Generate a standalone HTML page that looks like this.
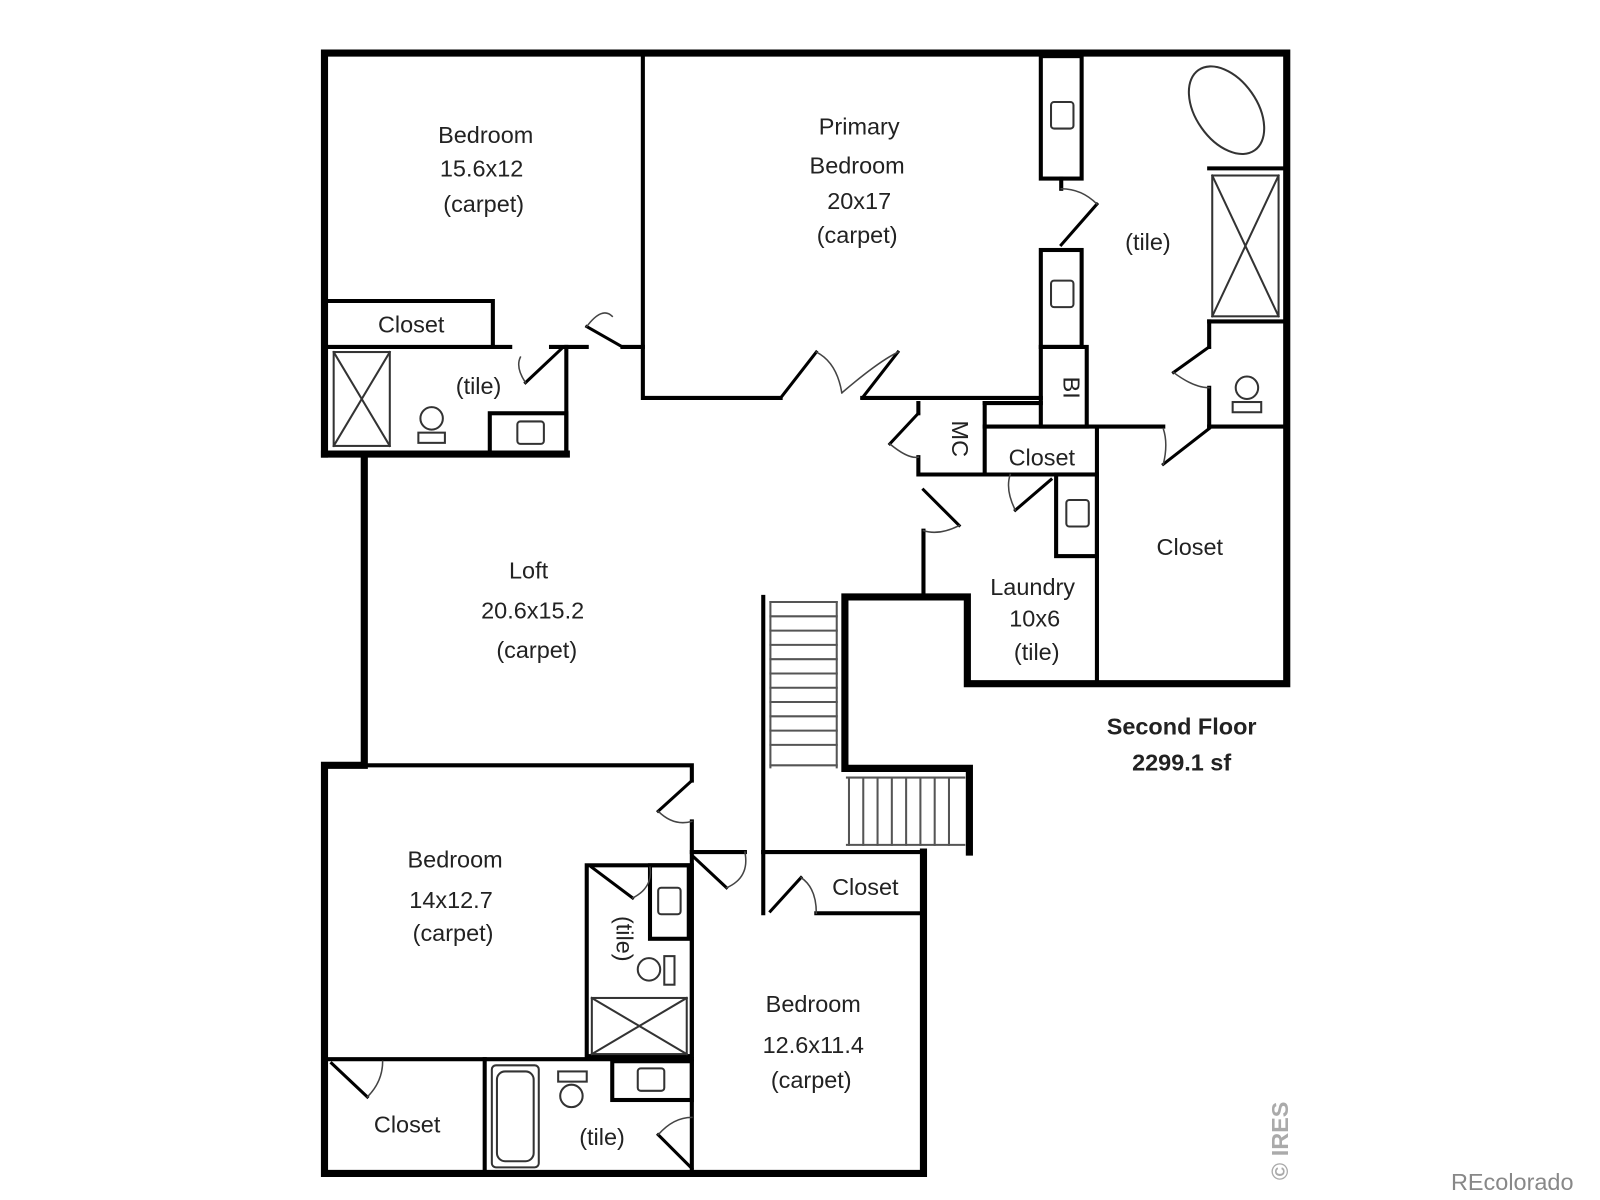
<!DOCTYPE html>
<html><head><meta charset="utf-8"><style>
html,body{margin:0;padding:0;background:#fff;width:1600px;height:1200px;overflow:hidden}
svg{display:block}
text{font-family:"Liberation Sans",sans-serif;fill:#222;font-size:23px;text-anchor:middle}
</style></head><body>
<svg width="1600" height="1200" viewBox="0 0 1568 1176" xmlns="http://www.w3.org/2000/svg">
<g fill="none" stroke="#000" stroke-linecap="square">
<g stroke-width="7">
<polyline points="318,445 318,52 1261,52 1261,670 948,670 948,585 828,585 828,753 950,753 950,835"/>
<polyline points="318,445 555,445"/>
<polyline points="357,445 357,750 318,750 318,1150 905,1150 905,835"/>
</g>
<g stroke-width="4">
<polyline points="630,55 630,390 765,390"/>
<polyline points="845,390 1020,390"/>
<rect x="1020" y="55" width="40" height="120"/>
<rect x="1020" y="245" width="40" height="95"/>
<rect x="1020" y="340" width="45" height="78"/>
<line x1="1040" y1="175" x2="1040" y2="185"/>
<polyline points="1185,165 1258,165"/>
<polyline points="1185,315 1258,315"/>
<line x1="1185" y1="315" x2="1185" y2="340"/>
<line x1="1185" y1="380" x2="1185" y2="418"/>
<polyline points="965,418 1140,418"/>
<line x1="1185" y1="418" x2="1258" y2="418"/>
<line x1="1075" y1="418" x2="1075" y2="668"/>
<polyline points="900,395 900,405"/>
<polyline points="900,448 900,465 1075,465"/>
<line x1="965" y1="395" x2="965" y2="465"/>
<line x1="965" y1="395" x2="1020" y2="395"/>
<rect x="1035" y="465" width="40" height="80"/>
<line x1="905" y1="520" x2="905" y2="582"/>
<polyline points="322,295 483,295 483,340"/>
<polyline points="322,340 500,340"/>
<polyline points="540,340 555,340 555,445"/>
<polyline points="555,340 575,340"/>
<line x1="610" y1="340" x2="630" y2="340"/>
<rect x="480" y="405" width="75" height="40"/>
<line x1="748" y1="585" x2="748" y2="835"/>
<line x1="748" y1="835" x2="905" y2="835"/>
<line x1="748" y1="835" x2="748" y2="895"/>
<polyline points="800,895 905,895"/>
<polyline points="318,750 678,750 678,765"/>
<line x1="678" y1="805" x2="678" y2="1150"/>
<polyline points="678,835 730,835"/>
<rect x="575" y="848" width="103" height="187"/>
<rect x="637" y="848" width="38" height="72"/>
<line x1="318" y1="1038" x2="678" y2="1038"/>
<line x1="475" y1="1038" x2="475" y2="1150"/>
<rect x="600" y="1040" width="78" height="38"/>
</g>
<g stroke="#555" stroke-width="2">
<line x1="755" y1="590" x2="755" y2="752"/><line x1="820" y1="590" x2="820" y2="752"/>
<line x1="755" y1="590" x2="820" y2="590"/><line x1="755" y1="604" x2="820" y2="604"/><line x1="755" y1="618" x2="820" y2="618"/><line x1="755" y1="632" x2="820" y2="632"/><line x1="755" y1="646" x2="820" y2="646"/><line x1="755" y1="660" x2="820" y2="660"/><line x1="755" y1="674" x2="820" y2="674"/><line x1="755" y1="688" x2="820" y2="688"/><line x1="755" y1="702" x2="820" y2="702"/><line x1="755" y1="716" x2="820" y2="716"/><line x1="755" y1="730" x2="820" y2="730"/><line x1="755" y1="750" x2="820" y2="750"/>
<line x1="830" y1="762" x2="945" y2="762"/><line x1="830" y1="828" x2="945" y2="828"/>
<line x1="832" y1="762" x2="832" y2="828"/><line x1="846" y1="762" x2="846" y2="828"/><line x1="860" y1="762" x2="860" y2="828"/><line x1="874" y1="762" x2="874" y2="828"/><line x1="888" y1="762" x2="888" y2="828"/><line x1="902" y1="762" x2="902" y2="828"/><line x1="916" y1="762" x2="916" y2="828"/><line x1="930" y1="762" x2="930" y2="828"/>
</g>
<g stroke="#333" stroke-width="2">
<rect x="327" y="345" width="55" height="92"/><line x1="327" y1="345" x2="382" y2="437"/><line x1="382" y1="345" x2="327" y2="437"/>
<rect x="1188" y="172" width="65" height="138"/><line x1="1188" y1="172" x2="1253" y2="310"/><line x1="1253" y1="172" x2="1188" y2="310"/>
<rect x="580" y="978" width="93" height="55"/><line x1="580" y1="978" x2="673" y2="1033"/><line x1="673" y1="978" x2="580" y2="1033"/>
<ellipse cx="1202" cy="108" rx="30" ry="48" transform="rotate(-35 1202 108)"/>
<rect x="482" y="1044" width="46" height="100" rx="4"/><rect x="487" y="1050" width="36" height="88" rx="8"/>
</g>
<g stroke="#333" stroke-width="2">
<rect x="1030" y="100" width="22" height="26" rx="3"/><rect x="1030" y="275" width="22" height="26" rx="3"/>
<rect x="1045" y="490" width="22" height="26" rx="3"/><rect x="507" y="413" width="26" height="22" rx="3"/>
<rect x="645" y="870" width="22" height="26" rx="3"/><rect x="625" y="1047" width="26" height="22" rx="3"/>
<circle cx="423" cy="410" r="11"/><rect x="410" y="424" width="26" height="10"/>
<circle cx="1222" cy="380" r="11"/><rect x="1208" y="394" width="28" height="10"/>
<circle cx="636" cy="950" r="11"/><rect x="651" y="937" width="10" height="28"/>
<circle cx="560" cy="1074" r="11"/><rect x="547" y="1050" width="28" height="10"/>
</g>
<g stroke="#000" stroke-width="3">
<line x1="575" y1="320" x2="610" y2="340"/><line x1="515" y1="375" x2="550" y2="342"/>
<line x1="765" y1="390" x2="800" y2="345"/><line x1="845" y1="390" x2="880" y2="345"/>
<line x1="1040" y1="240" x2="1075" y2="200"/>
<line x1="1185" y1="340" x2="1150" y2="365"/><line x1="1140" y1="455" x2="1185" y2="420"/>
<line x1="900" y1="405" x2="872" y2="435"/><line x1="905" y1="480" x2="940" y2="515"/>
<line x1="1030" y1="470" x2="995" y2="500"/>
<line x1="678" y1="765" x2="645" y2="795"/><line x1="680" y1="840" x2="712" y2="870"/>
<line x1="755" y1="893" x2="785" y2="860"/><line x1="580" y1="850" x2="620" y2="880"/>
<line x1="325" y1="1042" x2="360" y2="1075"/><line x1="678" y1="1145" x2="645" y2="1112"/>
</g>
<g stroke="#444" stroke-width="1.5">
<path d="M575,320 Q590,300 600,310"/><path d="M515,375 Q505,360 510,350"/>
<path d="M800,345 Q820,355 825,385"/><path d="M880,345 Q860,355 825,385"/>
<path d="M1075,200 Q1060,185 1040,185"/><path d="M1150,365 Q1170,380 1185,380"/>
<path d="M1140,455 Q1145,435 1140,420"/><path d="M872,435 Q890,450 900,448"/>
<path d="M940,515 Q920,525 905,520"/><path d="M995,500 Q985,480 990,465"/>
<path d="M645,795 Q660,810 678,805"/><path d="M712,870 Q735,860 730,835"/>
<path d="M785,860 Q800,870 800,895"/><path d="M620,880 Q640,870 637,850"/>
<path d="M360,1075 Q375,1060 375,1040"/><path d="M645,1112 Q660,1095 678,1095"/>
</g>
</g>
<text x="476" y="140">Bedroom</text><text x="472" y="173">15.6x12</text><text x="474" y="208">(carpet)</text>
<text x="842" y="132">Primary</text><text x="840" y="170">Bedroom</text><text x="842" y="205">20x17</text><text x="840" y="238">(carpet)</text>
<text x="1125" y="245">(tile)</text>
<text x="403" y="326">Closet</text><text x="469" y="386">(tile)</text>
<text x="1042" y="380" transform="rotate(90 1042 380)" font-size="20">BI</text>
<text x="933" y="430" transform="rotate(90 933 430)" font-size="20">MC</text>
<text x="1021" y="456">Closet</text><text x="1166" y="544">Closet</text>
<text x="1012" y="583">Laundry</text><text x="1014" y="614">10x6</text><text x="1016" y="647">(tile)</text>
<text x="518" y="567">Loft</text><text x="522" y="606">20.6x15.2</text><text x="526" y="645">(carpet)</text>
<text x="1158" y="720" font-weight="bold" font-size="22">Second Floor</text><text x="1158" y="755" font-weight="bold" font-size="22">2299.1 sf</text>
<text x="446" y="850">Bedroom</text><text x="442" y="890">14x12.7</text><text x="444" y="922">(carpet)</text>
<text x="604" y="920" transform="rotate(90 604 920)">(tile)</text>
<text x="848" y="877">Closet</text>
<text x="797" y="992">Bedroom</text><text x="797" y="1032">12.6x11.4</text><text x="795" y="1066">(carpet)</text>
<text x="399" y="1110">Closet</text><text x="590" y="1122">(tile)</text>
<text x="1262" y="1118" transform="rotate(-90 1262 1118)" font-size="16" font-weight="bold" style="fill:#aaa">© IRES</text>
<text x="1482" y="1166" font-size="24" style="fill:#888">REcolorado</text>
</svg>
</body></html>
